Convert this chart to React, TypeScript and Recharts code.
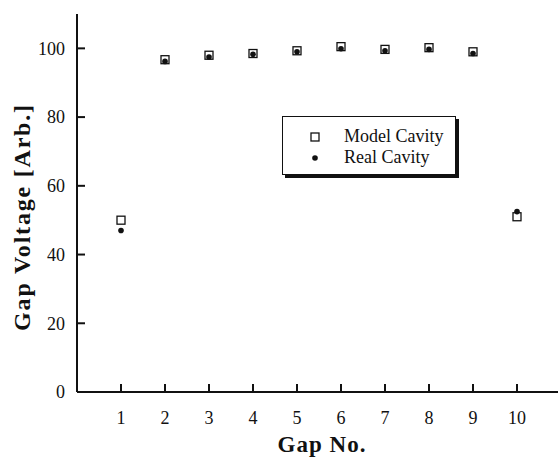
import React from "react";
import { ScatterChart, Scatter, XAxis, YAxis, Legend, Label } from "recharts";

// gap numbers and measured voltages (arbitrary units)
const gaps = [1, 2, 3, 4, 5, 6, 7, 8, 9, 10];
const modelCavity = [50, 96.7, 98, 98.5, 99.3, 100.5, 99.7, 100.2, 99, 51];
const realCavity = [47, 96.2, 97.5, 98.3, 99, 99.9, 99.3, 99.7, 98.5, 52.5];
const yTicks = [0, 20, 40, 60, 80, 100];
const rightTicks = [20, 40, 60, 80, 100];

const modelData = gaps.map((gap, i) => ({ gap, voltage: modelCavity[i] }));
const realData = gaps.map((gap, i) => ({ gap, voltage: realCavity[i] }));

const ink = "#111";
const serif = "'Liberation Serif', 'Times New Roman', serif";

const SquareMark = (props: any) => (
  <rect x={props.cx - 4} y={props.cy - 4} width={8} height={8} fill="#fff" stroke={ink} strokeWidth={1.3} />
);

const DotMark = (props: any) => <circle cx={props.cx} cy={props.cy} r={2.8} fill={ink} />;

const LegendBox = () => (
  <div
    style={{
      width: 174,
      height: 59,
      boxSizing: "border-box",
      border: `1.5px solid ${ink}`,
      boxShadow: `3px 3px 0 ${ink}`,
      background: "#fff",
      fontFamily: serif,
      fontSize: 18,
      color: ink,
      position: "relative",
    }}
  >
    <svg width={20} height={50} style={{ position: "absolute", left: 22, top: 4 }}>
      <rect x={6} y={12} width={8} height={8} fill="#fff" stroke={ink} strokeWidth={1.3} />
      <circle cx={10} cy={37} r={2.8} fill={ink} />
    </svg>
    <div style={{ position: "absolute", left: 61, top: 9, lineHeight: "21px", whiteSpace: "nowrap" }}>
      Model Cavity
      <br />
      Real Cavity
    </div>
  </div>
);

const axisStroke = { stroke: ink, strokeWidth: 2 };
const tickFont = { fill: ink, fontSize: 18, fontFamily: serif };

export default function App() {
  return (
    <div style={{ position: "fixed", left: 0, top: 0, width: 558, height: 462, overflow: "hidden", background: "#fff" }}>
      <ScatterChart width={570} height={462} margin={{ top: 14, right: 9, bottom: 0, left: 0 }}>
        <XAxis
          xAxisId="b"
          type="number"
          dataKey="gap"
          domain={[0, 11]}
          ticks={gaps}
          orientation="bottom"
          height={70}
          tickSize={-8}
          tickMargin={27}
          axisLine={axisStroke}
          tickLine={axisStroke}
          tick={tickFont}
        >
          <Label
            content={() => (
              <text x={322} y={444} textAnchor="middle" dominantBaseline="central" fontFamily={serif} fontSize={23} fontWeight="bold" letterSpacing={1} fill={ink}>
                Gap No.
              </text>
            )}
          />
        </XAxis>
        <XAxis
          xAxisId="t"
          type="number"
          domain={[0, 11]}
          ticks={gaps}
          orientation="top"
          height={0}
          tickSize={-8}
          axisLine={axisStroke}
          tickLine={axisStroke}
          tick={false}
        />
        <YAxis
          yAxisId="l"
          type="number"
          dataKey="voltage"
          domain={[0, 110]}
          ticks={yTicks}
          width={77}
          tickSize={-8}
          tickMargin={20}
          axisLine={axisStroke}
          tickLine={axisStroke}
          tick={tickFont}
        >
          <Label
            content={() => (
              <text x={22} y={217} transform="rotate(-90 22 217)" textAnchor="middle" dominantBaseline="central" fontFamily={serif} fontSize={24} fontWeight="bold" letterSpacing={1.8} fill={ink}>
                Gap Voltage [Arb.]
              </text>
            )}
          />
        </YAxis>
        <YAxis
          yAxisId="r"
          type="number"
          domain={[0, 110]}
          ticks={rightTicks}
          orientation="right"
          width={0}
          tickSize={-8}
          axisLine={axisStroke}
          tickLine={axisStroke}
          tick={false}
        />
        <Scatter name="Model Cavity" data={modelData} xAxisId="b" yAxisId="l" shape={SquareMark} isAnimationActive={false} />
        <Scatter name="Real Cavity" data={realData} xAxisId="b" yAxisId="l" shape={DotMark} isAnimationActive={false} />
        <Legend
          layout="vertical"
          align="center"
          verticalAlign="middle"
          content={() => <LegendBox />}
          wrapperStyle={{ left: 282, top: 116, width: 174, height: 59 }}
        />
      </ScatterChart>
    </div>
  );
}
